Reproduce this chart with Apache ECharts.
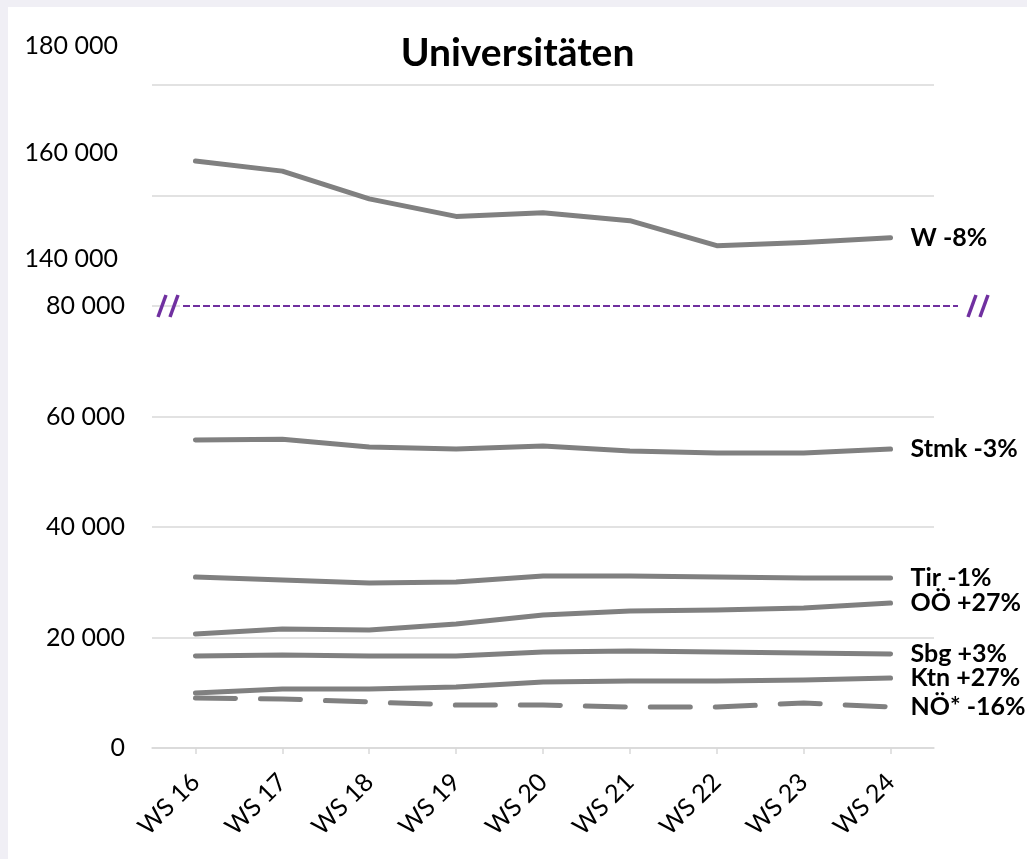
<!DOCTYPE html>
<html>
<head>
    <meta charset="utf-8">
    <title>Universitäten</title>
    <script src="https://cdn.jsdelivr.net/npm/echarts@6.0.0/dist/echarts.min.js"></script>
    <style>
        body, html { margin: 0; padding: 0; width: 100%; height: 100%; overflow: hidden; background: #f0eff5; }
        #main { position: absolute; left: 8px; top: 7px; right: 0; bottom: 0; background: #fff; }
    </style>
</head>
<body>
    <div id="main"></div>

    <script type="text/javascript">
        // categories (winter semesters)
        var semesters = ['WS 16', 'WS 17', 'WS 18', 'WS 19', 'WS 20', 'WS 21', 'WS 22', 'WS 23', 'WS 24'];

        // students per federal state
        var wien = [158400, 156500, 151300, 148000, 148700, 147200, 142500, 143100, 144000];
        var stmk = [55750, 55900, 54500, 54100, 54650, 53750, 53400, 53400, 54100];
        var tirol = [30950, 30400, 29860, 30050, 31130, 31130, 30950, 30770, 30770];
        var ooe = [20630, 21540, 21360, 22440, 24070, 24800, 24980, 25340, 26240];
        var sbg = [16650, 16830, 16650, 16650, 17370, 17560, 17370, 17190, 17010];
        var ktn = [9950, 10680, 10680, 11040, 11950, 12130, 12130, 12300, 12670];
        var noe = [9050, 8870, 8330, 7780, 7780, 7420, 7420, 8140, 7420];

        // change labels WS 16 -> WS 24
        var names = ['W', 'Stmk', 'Tir', 'OÖ', 'Sbg', 'Ktn', 'NÖ*'];
        var changes = ['-8%', '-3%', '-1%', '+27%', '+3%', '+27%', '-16%'];

        var lowTicks = [0, 20000, 40000, 60000, 80000];   // labelled ticks of the lower part
        var highTicks = [140000, 160000, 180000];          // labelled ticks of the upper part

        var FONT = 'Lato';
        var GRAY = '#808080';
        var PURPLE = '#7030a0';

        function fmt(v) {
            return String(v).replace(/\B(?=(\d{3})+(?!\d))/g, ' ');
        }

        function lineSeries(i, data, lower, dashed) {
            return {
                name: names[i],
                type: 'line',
                data: data,
                xAxisIndex: lower ? 0 : 1,
                yAxisIndex: lower ? 0 : 1,
                symbol: 'none',
                silent: true,
                lineStyle: {
                    color: GRAY, width: 5, cap: 'round', join: 'round',
                    type: dashed ? [40, 25] : 'solid'
                },
                endLabel: {
                    show: true,
                    distance: 20,
                    formatter: names[i] + ' ' + changes[i],
                    fontFamily: FONT, fontWeight: 'bold', fontSize: 25, color: '#000'
                },
                z: 3
            };
        }

        var myChart = echarts.init(document.getElementById('main'));

        myChart.setOption({
            animation: false,
            title: {
                text: 'Universitäten',
                left: 'center',
                top: 22,
                textStyle: { fontFamily: FONT, fontWeight: 'bold', fontSize: 39, color: '#000' }
            },
            grid: [
                { left: 144, right: 93, top: 78, bottom: 111 },
                { left: 144, right: 93, top: 39, bottom: 600 }
            ],
            xAxis: [
                {
                    type: 'category', gridIndex: 0, data: semesters, boundaryGap: true,
                    axisLine: { lineStyle: { color: '#d9d9d9', width: 1.5 } },
                    axisTick: { show: true, alignWithLabel: true, length: 6, lineStyle: { color: '#d9d9d9', width: 1.5 } },
                    axisLabel: { rotate: 45, margin: 30, fontFamily: FONT, fontSize: 25, color: '#000' }
                },
                { type: 'category', gridIndex: 1, data: semesters, boundaryGap: true, show: false }
            ],
            yAxis: [
                {
                    type: 'value', gridIndex: 0, min: 0, max: 120000, interval: 20000,
                    axisLine: { show: false }, axisTick: { show: false },
                    splitLine: { lineStyle: { color: '#d9d9d9', width: 1.5 } },
                    axisLabel: {
                        margin: 27, fontFamily: FONT, fontSize: 25, color: '#000',
                        formatter: function (v) { return lowTicks.indexOf(v) >= 0 ? fmt(v) : ''; }
                    }
                },
                {
                    type: 'value', gridIndex: 1, min: highTicks[0], max: highTicks[highTicks.length - 1], interval: 20000,
                    axisLine: { show: false }, axisTick: { show: false }, splitLine: { show: false },
                    axisLabel: { margin: 34, fontFamily: FONT, fontSize: 25, color: '#000', formatter: fmt }
                }
            ],
            series: [
                lineSeries(0, wien, false, false),
                lineSeries(1, stmk, true, false),
                lineSeries(2, tirol, true, false),
                lineSeries(3, ooe, true, false),
                lineSeries(4, sbg, true, false),
                lineSeries(5, ktn, true, false),
                lineSeries(6, noe, true, true)
            ]
        });

        // axis break marker at the top of the lower part
        var yb = myChart.convertToPixel({ yAxisIndex: 0 }, lowTicks[lowTicks.length - 1]);
        function slash(x) {
            return { type: 'line', shape: { x1: x + 8, y1: yb - 11, x2: x, y2: yb + 11 },
                     style: { stroke: PURPLE, lineWidth: 3.5 }, z: 10 };
        }
        myChart.setOption({
            graphic: [
                { type: 'rect', shape: { x: 172, y: yb - 3, width: 756, height: 6 }, style: { fill: '#fff' }, z: 9 },
                { type: 'line', shape: { x1: 175, y1: yb, x2: 950, y2: yb },
                  style: { stroke: PURPLE, lineWidth: 2, lineDash: [7, 3] }, z: 10 },
                slash(150), slash(162), slash(960), slash(972)
            ]
        });
    </script>
</body>
</html>
